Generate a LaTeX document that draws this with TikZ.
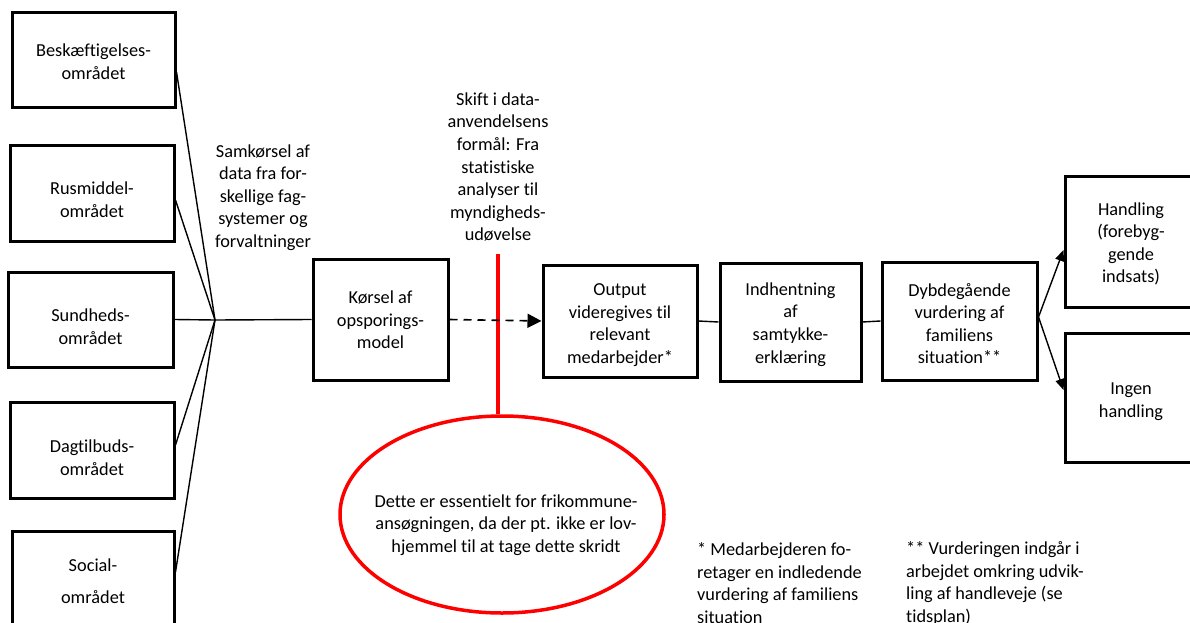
\documentclass[tikz,border=0pt]{standalone}
\usepackage{fontspec}
\setmainfont{Carlito}[Ligatures={NoCommon}]
\usetikzlibrary{arrows.meta,shapes.geometric,calc}
\begin{document}
\begin{tikzpicture}[x=1pt,y=-1pt,
  every node/.style={font=\fontsize{18.3}{22.6}\selectfont, inner sep=0pt},
  boxnode/.style={draw, line width=3pt, rectangle, align=center},
  btext/.style={align=center, draw=none},
  conn/.style={line width=1.4pt},
  dashconn/.style={line width=1.6pt, dash pattern=on 8pt off 6pt},
  bigtip/.style={-{Triangle[length=14pt,width=14pt]}},
  smalltip/.style={-{Triangle[length=11pt,width=9pt]}},
  note/.style={align=center},
  foot/.style={align=left, anchor=north west},
  redline/.style={draw=red, line width=4pt},
  redell/.style={draw=red, line width=3.5pt, ellipse}]
\clip (0,0) rectangle (1190,623);
\fill[white] (0,0) rectangle (1190,623);

% source boxes
\node[boxnode, minimum width=163pt, minimum height=95pt,
  label={[btext,yshift=-1pt]center:Beskæftigelses-\\området}] (b1) at (93.5,60.5) {};
\node[boxnode, minimum width=164pt, minimum height=96pt,
  label={[btext,yshift=-7pt]center:Rusmiddel-\\området}] (b2) at (92,193) {};
\node[boxnode, minimum width=165pt, minimum height=95pt,
  label={[btext,yshift=-7pt]center:Sundheds-\\området}] (b3) at (90.5,319.5) {};
\node[boxnode, minimum width=164pt, minimum height=96pt,
  label={[btext,yshift=-7.5pt]center:Dagtilbuds-\\området}] (b4) at (92,450) {};
\node[boxnode, minimum width=162pt, minimum height=99pt,
  label={[btext,yshift=-1pt]center:Social-\\[9pt]området}] (b5) at (93,580.5) {};

% process boxes
\node[boxnode, minimum width=135pt, minimum height=121pt,
  label={[btext,yshift=-0.5pt]center:Kørsel af\\opsporings-\\model}] (k) at (380.5,319.5) {};
\node[boxnode, minimum width=154pt, minimum height=112pt,
  label={[btext,yshift=-4pt]center:Output\\videregives til\\relevant\\medarbejder*}] (o) at (620,321) {};
\node[boxnode, minimum width=141pt, minimum height=118pt,
  label={[btext,yshift=-2.5pt]center:Indhentning\\af\\samtykke-\\erklæring}] (i) at (790.5,322) {};
\node[boxnode, minimum width=155pt, minimum height=118pt,
  label={[btext,yshift=-2.5pt]center:Dybdegående\\vurdering af\\familiens\\situation**}] (d) at (959.5,321) {};
\node[boxnode, minimum width=132pt, minimum height=131pt,
  label={[btext,yshift=-2.5pt]center:Handling\\(forebyg-\\gende\\indsats)}] (h) at (1131,241.5) {};
\node[boxnode, minimum width=132pt, minimum height=129pt,
  label={[btext,yshift=-4pt]center:Ingen\\handling}] (g) at (1131,397.5) {};

% labels
\node[note] (samk) at (263,197.5) {Samkørsel af\\data fra for-\\skellige fag-\\systemer og\\forvaltninger};
\node[note] (skift) at (498,167) {Skift i data-\\anvendelsens\\formål: Fra\\statistiske\\analyser til\\myndigheds-\\udøvelse};

% red ellipse
\node[redell, minimum width=324pt, minimum height=197pt] (e) at (502,514.5) {};
\node[note] (etext) at (506,525) {Dette er essentielt for frikommune-\\ansøgningen, da der pt. ikke er lov-\\hjemmel til at tage dette skridt};
\coordinate (redtop) at (498,254);
\draw[redline] (redtop) -- (redtop |- e.north);

% footnotes
\node[foot] (f1) at (697,542.5) {* Medarbejderen fo-\\retager en indledende\\vurdering af familiens\\situation};
\node[foot] (f2) at (906,541.5) {** Vurderingen indgår i\\arbejdet omkring udvik-\\ling af handleveje (se\\tidsplan)};

% connectors
\coordinate (J) at (215,320);
\draw[conn] ([yshift=-11.5pt]b1.east) -- (J);
\draw[conn] ([yshift=-7pt]b2.east) -- (J);
\draw[conn] (b3.east) -- (J);
\draw[conn] ([yshift=5pt]b4.east) -- (J);
\draw[conn] ([yshift=8.5pt]b5.east) -- (J);
\draw[conn] (J) -- (k.west);
\draw[dashconn, bigtip] (k.east) -- (o.west);
\draw[conn] (o.east) -- (i.west);
\draw[conn] (i.east) -- (d.west);
\draw[conn, smalltip] ([yshift=4pt]d.east) -- ([yshift=-8.5pt]h.west);
\draw[conn, smalltip] ([yshift=4pt]d.east) -- ([yshift=7.5pt]g.west);
\end{tikzpicture}
\end{document}
